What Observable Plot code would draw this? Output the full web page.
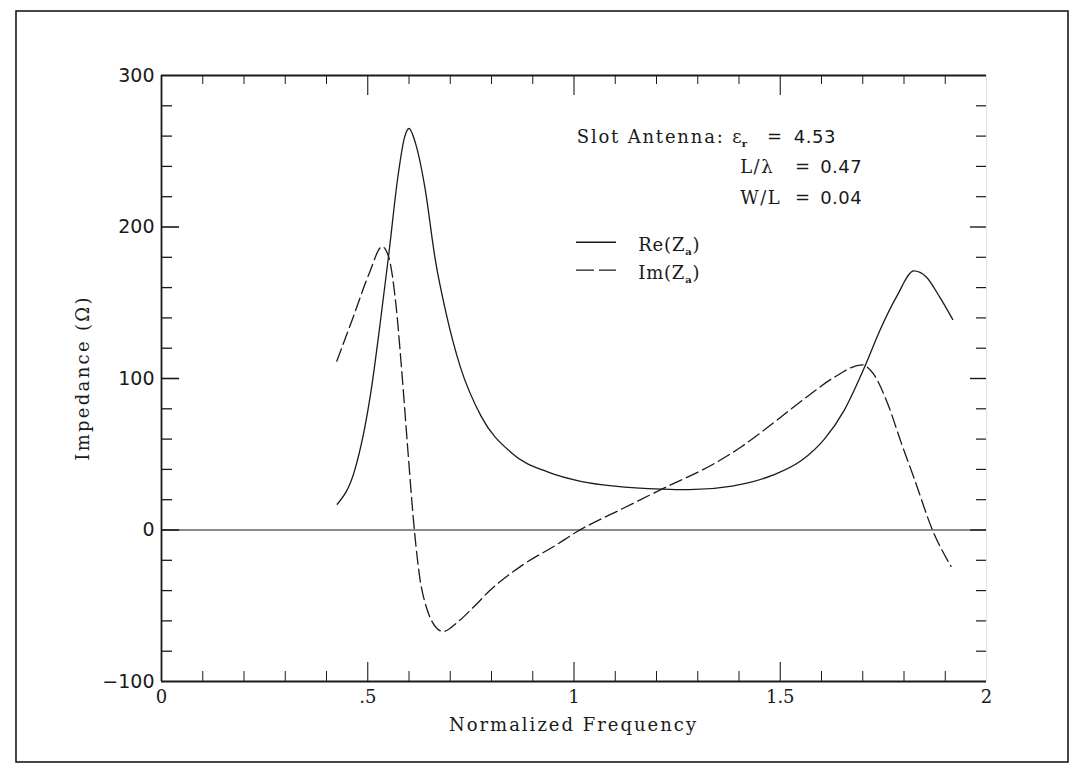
<!DOCTYPE html>
<html><head><meta charset="utf-8">
<script src="https://cdn.jsdelivr.net/npm/d3@7"></script>
<script src="https://cdn.jsdelivr.net/npm/@observablehq/plot@0.6"></script>
<style>
html,body{margin:0;padding:0;background:#fff;}
#chart{position:relative;width:1073px;height:769px;overflow:hidden;}
</style></head><body><div id="chart"></div>
<script>
// Re(Za) — solid curve
const reFreq = [0.426,0.469,0.507,0.529,0.551,0.573,0.589,0.600,0.616,0.638,0.664,0.690,0.724,0.775,0.848,0.939,1.019,1.099,1.213,1.279,1.383,1.480,1.552,1.607,1.655,1.706,1.742,1.782,1.824,1.854,1.886,1.918];
const reVal  = [17,40,90,134,182,233,259,265,255,227,178,143,108,75,51,38,32,29,27,26.6,29,36,46,60,79,108.5,132,154,171,167,154,139];
// Im(Za) — dashed curve
const imFreq = [0.425,0.464,0.503,0.535,0.551,0.569,0.583,0.598,0.613,0.627,0.641,0.655,0.668,0.683,0.717,0.756,0.796,0.876,0.956,1.008,1.117,1.213,1.341,1.406,1.461,1.570,1.629,1.699,1.726,1.761,1.794,1.826,1.869,1.914];
const imVal  = [111.5,140,169,187,180,147,103,50,0,-33,-50,-60,-65,-67,-61,-51,-40,-23,-10,-1,14,27,44,55,66,89,100.5,109,103,83,57,33,0,-24];

const xTickValues = [0, 0.5, 1, 1.5, 2];
const xTickLabels = ["0", ".5", "1", "1.5", "2"];
const xMajorTicks = [0.5, 1, 1.5];
const xMinorTicks = [0.1,0.2,0.3,0.4,0.6,0.7,0.8,0.9,1.1,1.2,1.3,1.4,1.6,1.7,1.8,1.9];
const yTickValues = [-100, 0, 100, 200, 300];
const yTickLabels = ["\u2212100", "0", "100", "200", "300"];
const yMajorTicks = [0, 100, 200];
const yMinorTicks = [-80,-60,-40,-20,20,40,60,80,120,140,160,180,220,240,260,280];

const xTitle = "Normalized Frequency";
const yTitle = "Impedance (\u03A9)";

const reData = reFreq.map((f, i) => ({f, v: reVal[i]}));
const imData = imFreq.map((f, i) => ({f, v: imVal[i]}));

const W = 1073, H = 769, ML = 161, MR = 87, MT = 75, MB = 88;
const FW = W - ML - MR, FH = H - MT - MB;
const ink = "#1a1a1a";
const serif = "DejaVu Serif";
const sans = "DejaVu Sans";

const chart = Plot.plot({
  width: W, height: H,
  marginLeft: ML, marginRight: MR, marginTop: MT, marginBottom: MB,
  x: {domain: [0, 2]},
  y: {domain: [-100, 300]},
  style: {background: "white", color: ink},
  marks: [
    // frame
    Plot.ruleX([0], {stroke: ink, strokeWidth: 1.8}),
    Plot.ruleX([2], {stroke: "#999", strokeWidth: 0.6, strokeOpacity: 0.5}),
    Plot.ruleY([-100, 300], {stroke: ink, strokeWidth: 1.8}),
    // inward ticks
    Plot.tickX(xMinorTicks, {x: d => d, insetTop: FH - 10, stroke: ink, strokeWidth: 1}),
    Plot.tickX(xMajorTicks, {x: d => d, insetTop: FH - 19, stroke: ink, strokeWidth: 1.1}),
    Plot.tickX(xMinorTicks, {x: d => d, insetBottom: FH - 9, stroke: ink, strokeWidth: 1}),
    Plot.tickX(xMajorTicks, {x: d => d, insetBottom: FH - 20, stroke: ink, strokeWidth: 1.1}),
    Plot.tickY(yMinorTicks, {y: d => d, insetRight: FW - 11, stroke: ink, strokeWidth: 1.3}),
    Plot.tickY(yMajorTicks, {y: d => d, insetRight: FW - 18, stroke: ink, strokeWidth: 1.6}),
    Plot.tickY(yMinorTicks, {y: d => d, insetLeft: FW - 10, stroke: ink, strokeWidth: 1.2}),
    Plot.tickY(yMajorTicks, {y: d => d, insetLeft: FW - 16, stroke: ink, strokeWidth: 1.4}),
    // zero line
    Plot.ruleY([0], {stroke: ink, strokeWidth: 1.2}),
    // curves
    Plot.line(reData, {x: "f", y: "v", curve: "monotone-x", stroke: ink, strokeWidth: 1.3}),
    Plot.line(imData, {x: "f", y: "v", curve: "monotone-x", stroke: ink, strokeWidth: 1.3, strokeDasharray: "13,5"}),
    // axes labels
    Plot.axisX({ticks: xTickValues, tickSize: 0, tickPadding: 9, label: null,
      tickFormat: d => xTickLabels[xTickValues.indexOf(d)], fontSize: 18, fontFamily: serif}),
    Plot.axisY({ticks: yTickValues, tickSize: 0, tickPadding: 7, label: null,
      tickFormat: d => yTickLabels[yTickValues.indexOf(d)], fontSize: 19, fontFamily: sans})
  ]
});
document.getElementById("chart").appendChild(chart);

// annotations, placed through the chart's scales
const X = v => chart.scale("x").apply(v);
const Y = v => chart.scale("y").apply(v);
const svg = d3.select(chart);

// outer page border
svg.append("rect").attr("x", 16).attr("y", 11).attr("width", 1052).attr("height", 751)
  .attr("fill", "none").attr("stroke", ink).attr("stroke-width", 1.6);

function txt(x, y, opts = {}) {
  const t = svg.append("text").attr("x", x).attr("y", y)
    .attr("font-family", opts.family || serif)
    .attr("font-size", opts.size || 18)
    .attr("fill", ink)
    .attr("letter-spacing", opts.ls != null ? opts.ls : 1)
    .attr("text-anchor", opts.anchor || "start");
  if (opts.transform) t.attr("transform", opts.transform);
  return t;
}
function sub(t, main, s) {
  t.append("tspan").text(main);
  t.append("tspan").text(s).attr("font-size", 10).attr("dy", 4).attr("font-weight", "bold");
}

// axis titles
txt((X(0) + X(2)) / 2, Y(-100) + 50, {anchor: "middle", ls: 2}).text(xTitle);
{
  const cx = X(0) - 72, cy = (Y(-100) + Y(300)) / 2;
  txt(0, 0, {anchor: "middle", ls: 2.3, transform: `translate(${cx},${cy}) rotate(-90)`}).text(yTitle);
}

// parameter block
txt(X(1.008), Y(255), {ls: 1.8}).text("Slot Antenna:");
{ const t = txt(X(1.385), Y(255), {ls: 0}); sub(t, "\u03B5", "r"); }
txt(X(1.469), Y(255), {ls: 0}).text("=");
txt(X(1.534), Y(255), {family: sans, ls: 0.5}).text("4.53");

txt(X(1.404), Y(235), {ls: 1.5}).text("L/\u03BB");
txt(X(1.537), Y(235), {ls: 0}).text("=");
txt(X(1.598), Y(235), {family: sans, ls: 0.5}).text("0.47");

txt(X(1.404), Y(215), {ls: 1.5}).text("W/L");
txt(X(1.537), Y(215), {ls: 0}).text("=");
txt(X(1.598), Y(215), {family: sans, ls: 0.5}).text("0.04");

// legend
svg.append("line").attr("x1", X(1.006)).attr("x2", X(1.103)).attr("y1", Y(189.6)).attr("y2", Y(189.6))
  .attr("stroke", ink).attr("stroke-width", 1.3);
svg.append("line").attr("x1", X(1.006)).attr("x2", X(1.103)).attr("y1", Y(171.2)).attr("y2", Y(171.2))
  .attr("stroke", ink).attr("stroke-width", 1.3).attr("stroke-dasharray", "18,5");
{ const t = txt(X(1.157), Y(183.8), {ls: 0.8}); t.append("tspan").text("Re("); sub(t, "Z", "a"); t.append("tspan").text(")").attr("dy", -4); }
{ const t = txt(X(1.157), Y(165.2), {ls: 0.8}); t.append("tspan").text("Im("); sub(t, "Z", "a"); t.append("tspan").text(")").attr("dy", -4); }
</script>
</body></html>
